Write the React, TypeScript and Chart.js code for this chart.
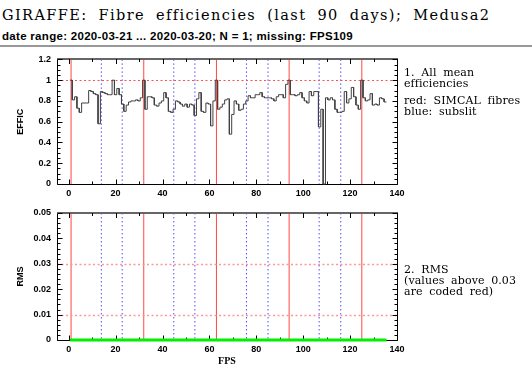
import React, { useEffect, useRef } from "react";
import { Chart, registerables } from "chart.js";
Chart.register(...registerables);

// Mean efficiency per fibre (FPS 1..135)
const efficiency = [
  1.0, 0.81, 0.84, 0.73, 0.69, 0.78, 0.78, 0.78, 0.9, 0.89,
  0.87, 0.86, 0.58, 0.89, 0.88, 0.87, 0.86, 0.86, 1.0, 0.86,
  0.92, 0.86, 0.77, 0.7, 0.76, 0.79, 0.8, 0.8, 0.81, 0.8,
  0.83, 1.0, 0.72, 0.84, 0.84, 0.83, 0.76, 0.75, 0.78, 0.8,
  0.88, 0.83, 0.7, 0.69, 0.72, 0.8, 0.79, 0.77, 0.75, 0.77,
  0.74, 0.77, 0.76, 0.66, 0.82, 0.88, 0.7, 0.69, 0.78, 0.77,
  0.56, 0.8, 1.0, 0.72, 0.74, 0.77, 0.81, 0.82, 0.48, 0.67,
  0.8, 0.77, 0.71, 0.72, 0.77, 0.8, 0.85, 0.83, 0.83, 0.86,
  0.86, 0.88, 0.84, 0.83, 0.83, 0.83, 0.82, 0.8, 0.84, 0.86,
  0.86, 0.83, 0.96, 1.0, 0.86, 0.86, 0.85, 0.86, 0.88, 0.83,
  0.8, 0.78, 0.89, 0.85, 0.89, 0.89, 0.55, 0.72, 0, 0.83,
  0.81, 0.83, 0.81, 0.72, 0.69, 0.69, 0.7, 0.89, 0.78, 0.82,
  0.93, 0.84, 0.76, 0.72, 1.0, 0.83, 0.8, 0.81, 0.87, 0.76,
  0.77, 0.76, 0.83, 0.82, 0.79,
];

// RMS per fibre (N = 1, all zero)
const rms = [
  0, 0, 0, 0, 0, 0, 0, 0, 0, 0, 0, 0, 0, 0, 0, 0, 0, 0, 0, 0,
  0, 0, 0, 0, 0, 0, 0, 0, 0, 0, 0, 0, 0, 0, 0, 0, 0, 0, 0, 0,
  0, 0, 0, 0, 0, 0, 0, 0, 0, 0, 0, 0, 0, 0, 0, 0, 0, 0, 0, 0,
  0, 0, 0, 0, 0, 0, 0, 0, 0, 0, 0, 0, 0, 0, 0, 0, 0, 0, 0, 0,
  0, 0, 0, 0, 0, 0, 0, 0, 0, 0, 0, 0, 0, 0, 0, 0, 0, 0, 0, 0,
  0, 0, 0, 0, 0, 0, 0, 0, 0, 0, 0, 0, 0, 0, 0, 0, 0, 0, 0, 0,
  0, 0, 0, 0, 0, 0, 0, 0, 0, 0, 0, 0, 0, 0, 0,
];

const simcalFibres = [1, 32, 63, 94, 125];
const subslitEdges = [13.9, 22.8, 44.8, 53.8, 75.8, 85, 106.8, 116];
const xTicks = [0, 20, 40, 60, 80, 100, 120, 140];
const effTicks = [0, 0.2, 0.4, 0.6, 0.8, 1, 1.2];
const effTickLabels = ["0", "0.2", "0.4", "0.6", "0.8", "1", "1.2"];
const rmsTicks = [0, 0.01, 0.02, 0.03, 0.04, 0.05];
const rmsTickLabels = ["0", "0.01", "0.02", "0.03", "0.04", "0.05"];
const effRefLines = [1];
const rmsRefLines = [0.01, 0.03];

const X_MIN = -5;
const X_MAX = 140;

function histPoints(vals: number[]) {
  const pts: { x: number; y: number }[] = [];
  vals.forEach((v, i) => {
    const f = i + 1;
    pts.push({ x: f - 0.5, y: v }, { x: f + 0.5, y: v });
  });
  return pts;
}

function decorPlugin(cfg: {
  refLines: number[];
  refColor: string;
  refWidth: number;
  yMinorStep: number;
  yMajorEvery: number;
  yMax: number;
}) {
  return {
    id: "decor",
    beforeDatasetsDraw(chart: any) {
      const { ctx, chartArea: a, scales } = chart;
      const x = scales.x;
      const y = scales.y;
      ctx.save();
      // subslit boundaries (blue dotted)
      ctx.strokeStyle = "rgb(80,80,255)";
      ctx.lineWidth = 1;
      ctx.setLineDash([1.5, 2.5]);
      subslitEdges.forEach((f) => {
        const px = x.getPixelForValue(f);
        ctx.beginPath();
        ctx.moveTo(px, a.top);
        ctx.lineTo(px, a.bottom);
        ctx.stroke();
      });
      // SIMCAL fibres (red solid)
      ctx.setLineDash([]);
      ctx.strokeStyle = "rgb(255,70,70)";
      simcalFibres.forEach((f) => {
        const px = x.getPixelForValue(f);
        ctx.beginPath();
        ctx.moveTo(px, a.top);
        ctx.lineTo(px, a.bottom);
        ctx.stroke();
      });
      // reference horizontal lines
      ctx.strokeStyle = cfg.refColor;
      ctx.lineWidth = cfg.refWidth;
      ctx.setLineDash([2, 2.5]);
      cfg.refLines.forEach((v) => {
        const py = Math.round(y.getPixelForValue(v)) + 0.5;
        ctx.beginPath();
        ctx.moveTo(a.left, py);
        ctx.lineTo(a.right, py);
        ctx.stroke();
      });
      ctx.setLineDash([]);

      // frame
      const L = Math.round(a.left) + 0.5;
      const R = Math.round(a.right) + 0.5;
      const B = Math.round(a.bottom) + 0.5;
      const T = Math.round(a.top);
      ctx.strokeStyle = "#000";
      ctx.lineWidth = 1;
      ctx.beginPath();
      ctx.moveTo(L, T);
      ctx.lineTo(L, B);
      ctx.lineTo(R, B);
      ctx.lineTo(R, T);
      ctx.stroke();
      ctx.strokeStyle = "#666";
      ctx.lineWidth = 2;
      ctx.beginPath();
      ctx.moveTo(L - 0.5, T);
      ctx.lineTo(R + 0.5, T);
      ctx.stroke();

      // tick marks (inside)
      ctx.strokeStyle = "#000";
      ctx.lineWidth = 1;
      ctx.beginPath();
      for (let v = 0; v <= X_MAX + 1e-9; v += 10) {
        const px = Math.round(x.getPixelForValue(v)) + 0.5;
        const len = v % 20 === 0 ? 5 : 3;
        ctx.moveTo(px, B);
        ctx.lineTo(px, B - len);
        ctx.moveTo(px, T);
        ctx.lineTo(px, T + len);
      }
      const n = Math.round(cfg.yMax / cfg.yMinorStep);
      for (let i = 0; i <= n; i++) {
        const v = i * cfg.yMinorStep;
        const py = Math.round(y.getPixelForValue(v)) + 0.5;
        const len = i % cfg.yMajorEvery === 0 ? 5 : 3;
        ctx.moveTo(L, py);
        ctx.lineTo(L + len, py);
        ctx.moveTo(R, py);
        ctx.lineTo(R - len, py);
      }
      ctx.stroke();
      ctx.restore();
    },
  };
}

function makeConfig(opts: {
  data: any[];
  color: string;
  width: number;
  yTicks: number[];
  yLabels: string[];
  yMax: number;
  yTitle: string;
  xTitle: string | null;
  padTop: number;
  xAxisHeight: number;
  refLines: number[];
  refColor: string;
  refWidth: number;
  yMinorStep: number;
  yMajorEvery: number;
}) {
  return {
    type: "line" as const,
    data: {
      datasets: [
        {
          data: opts.data,
          borderColor: opts.color,
          borderWidth: opts.width,
          pointRadius: 0,
          tension: 0,
          fill: false,
          clip: false as any,
        },
      ],
    },
    options: {
      animation: false as const,
      responsive: false,
      maintainAspectRatio: false,
      devicePixelRatio: 1,
      layout: {
        autoPadding: false,
        padding: { left: 0, right: 135, top: opts.padTop, bottom: 0 },
      },
      plugins: { legend: { display: false }, tooltip: { enabled: false } },
      scales: {
        x: {
          type: "linear" as const,
          min: X_MIN,
          max: X_MAX,
          grid: { display: false, drawTicks: false },
          border: { display: false },
          afterBuildTicks: (s: any) => {
            s.ticks = xTicks.map((v) => ({ value: v }));
          },
          afterFit: (s: any) => {
            s.height = opts.xAxisHeight;
          },
          ticks: {
            color: "#000",
            padding: 4,
            maxRotation: 0,
            autoSkip: false,
            font: { family: "Liberation Sans", weight: "bold" as const, size: 9 },
            callback: (v: any) => String(v),
          },
          title: opts.xTitle
            ? {
                display: true,
                text: opts.xTitle,
                color: "#000",
                padding: { top: 0, bottom: 5 },
                font: { family: "Liberation Serif", weight: "bold" as const, size: 10 },
              }
            : { display: false },
        },
        y: {
          type: "linear" as const,
          min: 0,
          max: opts.yMax,
          grid: { display: false, drawTicks: false },
          border: { display: false },
          afterBuildTicks: (s: any) => {
            s.ticks = opts.yTicks.map((v) => ({ value: v }));
          },
          afterFit: (s: any) => {
            s.width = 57;
          },
          ticks: {
            color: "#000",
            padding: 6,
            autoSkip: false,
            font: { family: "Liberation Sans", weight: "bold" as const, size: 9 },
            callback: (v: any) => {
              const i = opts.yTicks.findIndex((t) => Math.abs(t - v) < 1e-9);
              return i >= 0 ? opts.yLabels[i] : "";
            },
          },
          title: {
            display: true,
            text: opts.yTitle,
            color: "#000",
            padding: { top: 15, bottom: 0 },
            font: { family: "Liberation Sans", weight: "bold" as const, size: 9 },
          },
        },
      },
    },
    plugins: [
      decorPlugin({
        refLines: opts.refLines,
        refColor: opts.refColor,
        refWidth: opts.refWidth,
        yMinorStep: opts.yMinorStep,
        yMajorEvery: opts.yMajorEvery,
        yMax: opts.yMax,
      }),
    ],
  };
}

function PlotCanvas(props: { top: number; height: number; config: () => any }) {
  const ref = useRef<HTMLCanvasElement | null>(null);
  useEffect(() => {
    if (!ref.current) return;
    const chart = new Chart(ref.current, props.config());
    return () => chart.destroy();
  }, []);
  return (
    <canvas
      ref={ref}
      width={532}
      height={props.height}
      style={{ position: "absolute", left: 0, top: props.top, width: 532, height: props.height }}
    />
  );
}

const serif = "'DejaVu Serif', serif";

const sideText: React.CSSProperties = {
  position: "absolute",
  left: 404,
  fontFamily: serif,
  fontSize: 11,
  lineHeight: "11px",
  whiteSpace: "pre",
  color: "#000",
  wordSpacing: "3px",
  letterSpacing: "0.1px",
};

export default function App() {
  return (
    <div
      style={{
        position: "absolute",
        left: 0,
        top: 0,
        width: 532,
        height: 372,
        background: "#fff",
        overflow: "hidden",
      }}
    >
      <div
        style={{
          position: "absolute",
          left: 2,
          top: 7,
          fontFamily: serif,
          fontSize: 14.5,
          lineHeight: "17px",
          whiteSpace: "pre",
          color: "#000",
          letterSpacing: "1.4px",
          wordSpacing: "5px",
        }}
      >
        GIRAFFE: Fibre efficiencies (last 90 days); Medusa2
      </div>
      <div
        style={{
          position: "absolute",
          left: 2,
          top: 30,
          fontFamily: "'Liberation Sans', sans-serif",
          fontWeight: "bold",
          fontSize: 11.5,
          lineHeight: "13px",
          whiteSpace: "pre",
          color: "#000",
          letterSpacing: "0.3px",
        }}
      >
        date range: 2020-03-21 ... 2020-03-20; N = 1; missing: FPS109
      </div>
      <div style={{ position: "absolute", left: 0, top: 45, width: 532, height: 2, background: "#999" }} />

      <PlotCanvas
        top={48}
        height={152}
        config={() =>
          makeConfig({
            data: histPoints(efficiency),
            color: "#404040",
            width: 1,
            yTicks: effTicks,
            yLabels: effTickLabels,
            yMax: 1.2,
            yTitle: "EFFIC",
            xTitle: null,
            padTop: 9,
            xAxisHeight: 16,
            refLines: effRefLines,
            refColor: "rgb(255,80,80)",
            refWidth: 1,
            yMinorStep: 0.05,
            yMajorEvery: 4,
          })
        }
      />
      <PlotCanvas
        top={200}
        height={172}
        config={() =>
          makeConfig({
            data: histPoints(rms),
            color: "rgb(0,240,0)",
            width: 3,
            yTicks: rmsTicks,
            yLabels: rmsTickLabels,
            yMax: 0.05,
            yTitle: "RMS",
            xTitle: "FPS",
            padTop: 13,
            xAxisHeight: 32,
            refLines: rmsRefLines,
            refColor: "rgb(255,150,150)",
            refWidth: 1.5,
            yMinorStep: 0.002,
            yMajorEvery: 5,
          })
        }
      />

      <div style={{ ...sideText, top: 67 }}>{"1. All mean\nefficiencies"}</div>
      <div style={{ ...sideText, top: 95 }}>{"red: SIMCAL fibres\nblue: subslit"}</div>
      <div style={{ ...sideText, top: 264 }}>{"2. RMS\n(values above 0.03\nare coded red)"}</div>
    </div>
  );
}
